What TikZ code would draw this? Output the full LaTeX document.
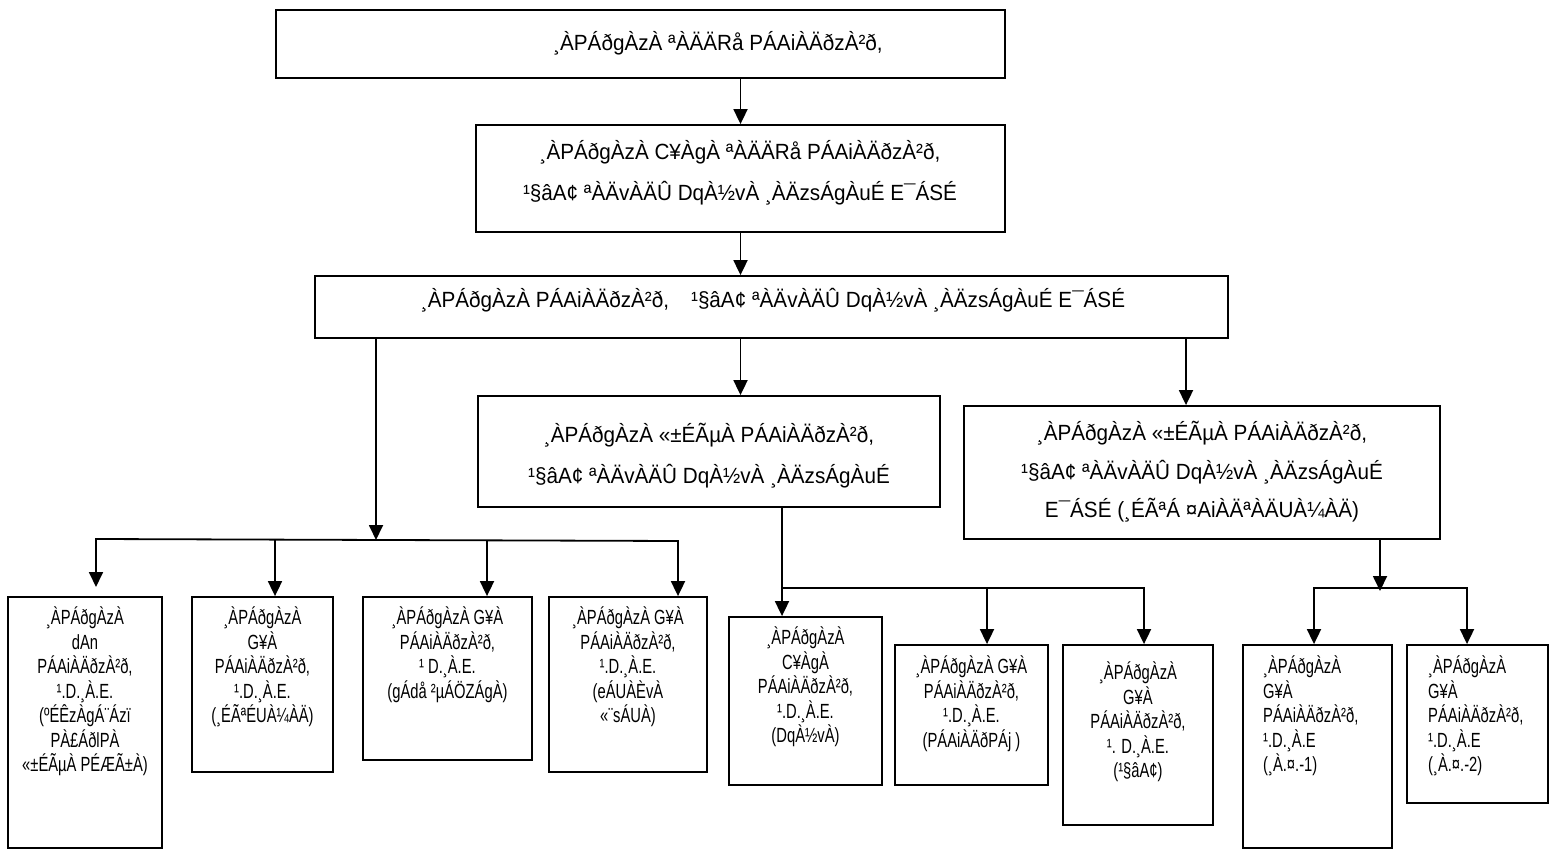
\documentclass[tikz,border=0pt]{standalone}
\usepackage{fontspec}
\setmainfont{Liberation Sans}
\newfontfamily\upfont[FakeStretch=0.94]{Liberation Sans}
\newfontfamily\lowfont[FakeStretch=0.72]{Liberation Sans}
\usetikzlibrary{arrows.meta}
\begin{document}
\begin{tikzpicture}[x=1pt,y=-1pt,
  box/.style={draw, line width=1.8pt, inner sep=0pt},
  up/.style={font=\upfont\fontsize{22}{41}\selectfont, align=center, inner sep=0pt, anchor=north},
  low/.style={font=\lowfont\fontsize{20.5}{24.5}\selectfont, align=center, inner sep=0pt, anchor=north},
  lowl/.style={low, align=left, anchor=north west},
  conn/.style={line width=1.8pt, line cap=rect},
  arr/.style={line width=1.8pt, -{Triangle[length=15pt,width=14pt]}}]
\fill[white] (0,0) rectangle (1549,850);
\useasboundingbox (0,0) rectangle (1549,850);
% boxes
\node[box, minimum width=729pt, minimum height=68pt] (A) at (640.5,44) {};
\node[box, minimum width=529pt, minimum height=107pt] (B) at (740.5,178.5) {};
\node[box, minimum width=913pt, minimum height=62pt] (C) at (771.5,307) {};
\node[box, minimum width=462pt, minimum height=111pt] (D) at (709,451.5) {};
\node[box, minimum width=476pt, minimum height=133pt] (E) at (1202,472.5) {};
\node[box, minimum width=154pt, minimum height=251pt] (b1) at (85,722.5) {};
\node[box, minimum width=141pt, minimum height=175pt] (b2) at (262.5,684.5) {};
\node[box, minimum width=169pt, minimum height=163pt] (b3) at (447.5,678.5) {};
\node[box, minimum width=158pt, minimum height=175pt] (b4) at (628,684.5) {};
\node[box, minimum width=153pt, minimum height=168pt] (b5) at (805.5,701) {};
\node[box, minimum width=153pt, minimum height=140pt] (b6) at (971.5,715) {};
\node[box, minimum width=150pt, minimum height=180pt] (b7) at (1138,735) {};
\node[box, minimum width=149pt, minimum height=203pt] (b8) at (1317.5,746.5) {};
\node[box, minimum width=141pt, minimum height=158pt] (b9) at (1477.5,724) {};
% texts
\node[up] (tA) at (718,31) {¸ÀPÁðgÀzÀ ªÀÄÄRå PÁAiÀÄðzÀ²ð,};
\node[up] (tB) at (740,140) {¸ÀPÁðgÀzÀ C¥ÀgÀ ªÀÄÄRå PÁAiÀÄðzÀ²ð,\\ ¹§âA¢ ªÀÄvÀÄÛ DqÀ½vÀ ¸ÀÄzsÁgÀuÉ E¯ÁSÉ};
\node[up] (tC) at (773,288) {¸ÀPÁðgÀzÀ PÁAiÀÄðzÀ²ð,\quad ¹§âA¢ ªÀÄvÀÄÛ DqÀ½vÀ ¸ÀÄzsÁgÀuÉ E¯ÁSÉ};
\node[up] (tD) at (709,423) {¸ÀPÁðgÀzÀ «±ÉÃµÀ PÁAiÀÄðzÀ²ð,\\ ¹§âA¢ ªÀÄvÀÄÛ DqÀ½vÀ ¸ÀÄzsÁgÀuÉ};
\node[up, font=\upfont\fontsize{22}{38.5}\selectfont] (tE) at (1202,421) {¸ÀPÁðgÀzÀ «±ÉÃµÀ PÁAiÀÄðzÀ²ð,\\ ¹§âA¢ ªÀÄvÀÄÛ DqÀ½vÀ ¸ÀÄzsÁgÀuÉ\\ E¯ÁSÉ (¸ÉÃªÁ ¤AiÀÄªÀÄUÀ¼ÀÄ)};
\node[low] (t1) at (85,607) {¸ÀPÁðgÀzÀ\\ dAn\\ PÁAiÀÄðzÀ²ð,\\ ¹.D.¸À.E.\\ (ºÉÊzÀgÁ¨Ázï\\ PÀ£ÁðlPÀ\\ «±ÉÃµÀ PÉÆÃ±À)};
\node[low] (t2) at (262.5,607) {¸ÀPÁðgÀzÀ\\ G¥À\\ PÁAiÀÄðzÀ²ð,\\ ¹.D.¸À.E.\\ (¸ÉÃªÉUÀ¼ÀÄ)};
\node[low] (t3) at (447.5,607) {¸ÀPÁðgÀzÀ G¥À\\ PÁAiÀÄðzÀ²ð,\\ ¹ D.¸À.E.\\ (gÁdå ²µÁÖZÁgÀ)};
\node[low] (t4) at (628,607) {¸ÀPÁðgÀzÀ G¥À\\ PÁAiÀÄðzÀ²ð,\\ ¹.D.¸À.E.\\ (eÁUÀÈvÀ\\ «¨sÁUÀ)};
\node[low] (t5) at (805.5,627) {¸ÀPÁðgÀzÀ\\ C¥ÀgÀ\\ PÁAiÀÄðzÀ²ð,\\ ¹.D.¸À.E.\\ (DqÀ½vÀ)};
\node[low] (t6) at (971.5,656) {¸ÀPÁðgÀzÀ G¥À\\ PÁAiÀÄðzÀ²ð,\\ ¹.D.¸À.E.\\ (PÁAiÀÄðPÁj )};
\node[low] (t7) at (1138,662) {¸ÀPÁðgÀzÀ\\ G¥À\\ PÁAiÀÄðzÀ²ð,\\ ¹. D.¸À.E.\\ (¹§âA¢)};
\node[lowl] (t8) at (1263,656) {¸ÀPÁðgÀzÀ\\ G¥À\\ PÁAiÀÄðzÀ²ð,\\ ¹.D.¸À.E\\ (¸À.¤.-1)};
\node[lowl] (t9) at (1428,656) {¸ÀPÁðgÀzÀ\\ G¥À\\ PÁAiÀÄðzÀ²ð,\\ ¹.D.¸À.E\\ (¸À.¤.-2)};
% junction coordinates
\coordinate (xE) at (1186,0);
\coordinate (jL) at (376,540);
\coordinate (hL1) at (96,539);
\coordinate (hL2) at (275,540);
\coordinate (hL3) at (487,540.5);
\coordinate (hL4) at (678,541);
\coordinate (s1) at (96,587);
\coordinate (jM) at (782,588);
\coordinate (jM2) at (987,588);
\coordinate (jM3) at (1144,588);
\coordinate (jR) at (1380,591);
\coordinate (hR1) at (1314,588);
\coordinate (hR2) at (1467,588);
% connectors
\draw[arr] (A.south -| B.north) -- (B.north);
\draw[arr] (B.south) -- (B.south |- C.north);
\draw[arr] (C.south -| B.south) -- (B.south |- D.north);
\draw[arr] (C.south -| xE) -- (E.north -| xE);
\draw[arr] (C.south -| jL) -- (jL);
\draw[conn] (hL1) -- (hL4);
\draw[arr] (hL1) -- (s1);
\draw[arr] (hL2) -- (hL2 |- b2.north);
\draw[arr] (hL3) -- (hL3 |- b3.north);
\draw[arr] (hL4) -- (hL4 |- b4.north);
\draw[arr] (D.south -| jM) -- (b5.north -| jM);
\draw[conn] (jM) -- (jM3);
\draw[arr] (jM2) -- (b6.north -| jM2);
\draw[arr] (jM3) -- (b7.north -| jM3);
\draw[arr] (E.south -| jR) -- (jR);
\draw[conn] (hR1) -- (hR2);
\draw[arr] (hR1) -- (b8.north -| hR1);
\draw[arr] (hR2) -- (b9.north -| hR2);
\end{tikzpicture}
\end{document}
